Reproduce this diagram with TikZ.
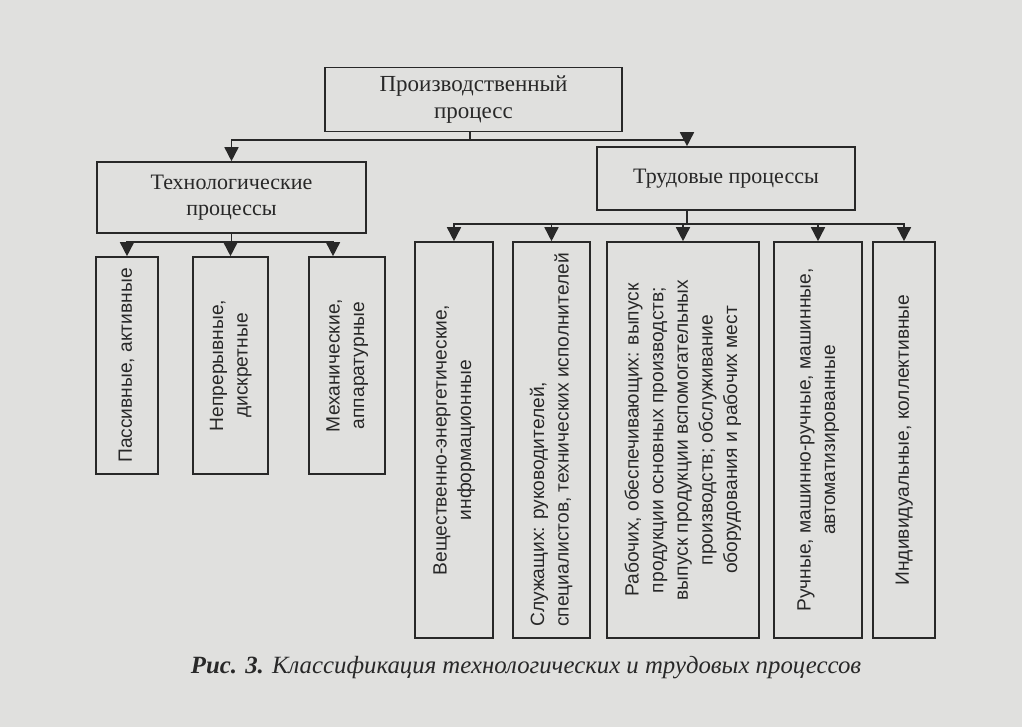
\documentclass[tikz,border=0pt]{standalone}
\usepackage{fontspec}
\setmainfont{Liberation Serif}
\setsansfont{Liberation Sans}
\usepackage{graphicx}
\usetikzlibrary{arrows.meta}
\definecolor{ink}{RGB}{40,40,40}
\definecolor{paper}{RGB}{224,224,222}
\newcommand{\vlabel}[2][c]{\rotatebox{90}{\begin{tabular}{@{}#1@{}}#2\end{tabular}}}

\begin{document}
\begin{tikzpicture}[x=0.5pt,y=-0.5pt,
  box/.style={rectangle, draw=ink, line width=0.8pt, text=ink, align=center, inner sep=0pt, font=\fontsize{11}{13}\selectfont},
  vbox/.style={rectangle, draw=ink, line width=0.8pt, text=ink, inner sep=0pt, font=\sffamily\fontsize{9.6}{12.3}\selectfont},
  stem/.style={line width=0.8pt, ink},
  arrow/.style={-{Triangle[length=7pt,width=7pt]}, line width=0.8pt, ink}
]
\fill[paper] (0,0) rectangle (1022,727);

\node[box, minimum width=148.5pt, minimum height=32pt, font=\fontsize{11.5}{13.5}\selectfont] (prod) at (473.5,99.5) {Производственный\\процесс};
\node[box, minimum width=134.5pt, minimum height=35.5pt] (tech) at (231.5,197.5) {Технологические\\процессы};
\node[box, minimum width=129pt, minimum height=31.5pt] (trud) at (726,178.5) {Трудовые процессы};

\node[vbox, minimum width=31pt, minimum height=108.5pt] (pass) at (127,365.5) {\vlabel{Пассивные, активные}};
\node[vbox, minimum width=37.5pt, minimum height=108.5pt] (nepr) at (230.5,365.5) {\vlabel{Непрерывные,\\дискретные}};
\node[vbox, minimum width=38pt, minimum height=108.5pt] (mech) at (347,365.5) {\vlabel{Механические,\\аппаратурные}};

\node[vbox, minimum width=39pt, minimum height=198pt] (vesh) at (454,440) {\vlabel{Вещественно-энергетические,\\информационные}};
\node[vbox, minimum width=38.5pt, minimum height=198pt] (sluzh) at (551.5,440) {\vlabel[l]{Служащих: руководителей,\\специалистов, технических исполнителей}};
\node[vbox, minimum width=76pt, minimum height=198pt] (rab) at (683,440) {\vlabel{Рабочих, обеспечивающих: выпуск\\продукции основных производств;\\выпуск продукции вспомогательных\\производств; обслуживание\\оборудования и рабочих мест}};
\node[vbox, minimum width=44pt, minimum height=198pt] (ruch) at (818,440) {\vlabel{Ручные, машинно-ручные, машинные,\\автоматизированные}};
\node[vbox, minimum width=31pt, minimum height=198pt] (indiv) at (904,440) {\vlabel{Индивидуальные, коллективные}};

\node[text=ink, anchor=base, font=\fontsize{12.4}{15}\selectfont\itshape] (caption) at (526,673) {\textbf{Рис. 3.} Классификация технологических и трудовых процессов};

% связи
\coordinate (j1) at (470,140);
\coordinate (j2) at (231.5,242);
\coordinate (j3) at (687,224);

\draw[stem] (prod.south -| j1) -- (j1);
\draw[arrow] (j1) -| (tech.north);
\draw[arrow] (j1) -| ([xshift=-19.5pt]trud.north);

\draw[stem] (tech.south) -- (j2);
\draw[arrow] (j2) -| (pass.north);
\draw[arrow] (j2) -| (nepr.north);
\draw[arrow] (j2) -| ([xshift=-7pt]mech.north);

\draw[stem] (trud.south -| j3) -- (j3);
\draw[arrow] (j3) -| (vesh.north);
\draw[arrow] (j3) -| (sluzh.north);
\draw[arrow] (j3) -| (rab.north);
\draw[arrow] (j3) -| (ruch.north);
\draw[arrow] (j3) -| (indiv.north);

\end{tikzpicture}
\end{document}
